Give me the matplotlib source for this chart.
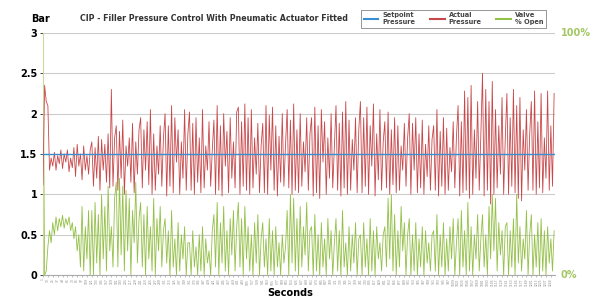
import matplotlib
matplotlib.use("Agg")
import matplotlib.pyplot as plt
import numpy as np

# readings every 4 s, 1 .. 1257
seconds = list(range(1, 1261, 4))

setpoint = 1.5

actual = [
    1.12, 2.35, 2.15, 2.10, 1.30, 1.45, 1.35, 1.52, 1.30, 1.48, 1.38, 1.55, 1.32, 1.50, 1.40,
    1.55, 1.28, 1.45, 1.33, 1.58, 1.22, 1.62, 1.35, 1.50, 1.18, 1.60, 1.30, 1.48, 1.25, 1.55,
    1.65, 1.10, 1.58, 1.20, 1.72, 1.05, 1.68, 1.30, 1.62, 1.15, 1.75, 1.08, 2.30, 1.10, 1.70,
    1.85, 1.05, 1.78, 1.20, 1.92, 1.00, 1.60, 1.35, 1.70, 1.15, 1.88, 1.02, 1.65, 1.25, 1.80,
    1.95, 1.08, 1.80, 1.30, 1.90, 1.12, 2.05, 1.00, 1.75, 1.05, 1.60, 1.25, 1.85, 1.10, 1.70,
    2.00, 0.98, 1.85, 1.10, 2.10, 1.02, 1.95, 1.40, 1.80, 1.00, 1.65, 1.20, 2.05, 1.05, 1.75,
    2.02, 1.05, 1.88, 1.00, 1.95, 1.15, 1.70, 1.02, 2.05, 1.08, 1.60, 1.30, 1.90, 1.10, 1.55,
    1.92, 1.00, 2.10, 1.05, 1.85, 0.98, 2.00, 1.35, 1.78, 1.02, 1.95, 1.20, 1.65, 1.08, 2.02,
    2.08, 1.00, 1.90, 1.10, 2.12, 1.05, 1.95, 1.00, 2.05, 1.08, 1.70, 1.25, 1.88, 1.02, 1.60,
    1.88, 1.02, 2.10, 1.00, 1.98, 1.30, 2.08, 1.05, 1.85, 0.98, 1.72, 1.15, 2.00, 1.10, 1.62,
    2.05, 1.08, 1.92, 1.00, 2.12, 1.05, 1.80, 1.02, 2.00, 1.10, 1.65, 1.28, 1.95, 1.05, 1.75,
    1.95, 0.98, 2.08, 1.02, 1.85, 0.95, 2.05, 1.40, 1.90, 1.00, 1.70, 1.20, 2.00, 1.08, 1.60,
    2.10, 1.05, 1.88, 0.98, 2.02, 1.08, 2.15, 1.00, 1.92, 1.05, 1.68, 1.30, 1.95, 1.02, 1.80,
    2.15, 1.02, 1.95, 1.10, 2.08, 1.00, 1.85, 1.35, 2.12, 0.98, 1.75, 1.18, 2.05, 1.05, 1.65,
    1.90, 1.08, 2.02, 1.00, 1.80, 1.12, 1.95, 1.02, 1.85, 1.05, 1.60, 1.30, 1.88, 1.10, 1.70,
    2.00, 1.00, 1.88, 1.30, 1.95, 1.02, 1.75, 1.08, 1.92, 1.00, 1.62, 1.22, 1.85, 1.05, 1.68,
    1.85, 1.05, 2.05, 0.98, 1.78, 1.10, 1.95, 1.00, 1.82, 1.05, 1.58, 1.28, 1.90, 1.08, 1.72,
    2.10, 0.98, 1.90, 1.02, 2.28, 1.05, 2.20, 0.95, 2.35, 1.00, 1.80, 1.20, 2.15, 1.05, 1.75,
    2.50, 0.98, 2.30, 1.05, 2.15, 0.88, 2.40, 1.00, 2.05, 1.08, 1.85, 1.25, 2.20, 1.00, 1.70,
    2.25, 1.00, 1.95, 1.10, 2.30, 1.02, 2.10, 0.95, 2.20, 0.92, 1.80, 1.30, 2.05, 1.05, 1.75,
    2.15, 1.05, 2.28, 1.00, 1.90, 1.08, 2.25, 1.02, 1.70, 1.20, 2.28, 1.05, 1.85, 1.10, 2.25,
]

# valve opening on the same 0-3 scale (3 = 100 %)
valve = [
    3.00, 0.00, 0.05, 0.35, 0.55, 0.40, 0.65, 0.50, 0.72, 0.55, 0.70, 0.60, 0.74, 0.58, 0.70,
    0.62, 0.72, 0.55, 0.65, 0.45, 0.60, 0.30, 0.50, 0.10, 0.85, 0.05, 0.60, 0.20, 0.80, 0.00,
    0.80, 0.00, 0.90, 0.15, 0.75, 0.00, 1.00, 0.20, 0.85, 0.05, 1.10, 0.30, 0.60, 0.10, 0.95,
    1.15, 0.10, 1.20, 0.25, 1.10, 0.05, 1.05, 0.30, 0.95, 0.00, 0.80, 0.40, 1.15, 0.15, 0.70,
    0.90, 0.10, 0.75, 0.00, 0.85, 0.20, 0.60, 0.05, 0.95, 0.00, 0.70, 0.30, 0.85, 0.10, 0.55,
    0.70, 0.15, 0.55, 0.00, 0.80, 0.10, 0.45, 0.00, 0.65, 0.05, 0.50, 0.20, 0.60, 0.00, 0.40,
    0.40, 0.00, 0.55, 0.10, 0.35, 0.00, 0.50, 0.05, 0.60, 0.00, 0.45, 0.15, 0.30, 0.00, 0.55,
    0.75, 0.10, 0.90, 0.00, 0.65, 0.15, 0.85, 0.05, 0.55, 0.00, 0.70, 0.25, 0.80, 0.05, 0.60,
    0.90, 0.10, 0.70, 0.00, 0.85, 0.20, 0.60, 0.05, 0.50, 0.00, 0.65, 0.15, 0.75, 0.00, 0.45,
    0.65, 0.10, 0.45, 0.00, 0.70, 0.05, 0.55, 0.00, 0.60, 0.10, 0.40, 0.00, 0.50, 0.15, 0.35,
    0.80, 0.00, 1.00, 0.15, 0.95, 0.05, 0.70, 0.00, 0.85, 0.10, 0.60, 0.25, 0.90, 0.05, 0.55,
    0.60, 0.00, 0.75, 0.05, 0.50, 0.00, 0.65, 0.10, 0.45, 0.00, 0.70, 0.20, 0.55, 0.00, 0.40,
    0.70, 0.05, 0.55, 0.00, 0.80, 0.10, 0.40, 0.00, 0.60, 0.05, 0.50, 0.15, 0.65, 0.00, 0.45,
    0.50, 0.00, 0.65, 0.10, 0.45, 0.00, 0.70, 0.05, 0.55, 0.00, 0.60, 0.20, 0.40, 0.05, 0.50,
    0.60, 0.10, 0.95, 0.20, 1.00, 0.05, 0.75, 0.00, 0.55, 0.10, 0.85, 0.30, 0.65, 0.00, 0.50,
    0.70, 0.00, 0.50, 0.05, 0.65, 0.00, 0.45, 0.10, 0.60, 0.00, 0.55, 0.15, 0.40, 0.05, 0.50,
    0.55, 0.05, 0.75, 0.00, 0.50, 0.10, 0.65, 0.00, 0.45, 0.05, 0.60, 0.20, 0.70, 0.00, 0.40,
    0.70, 0.00, 0.80, 0.10, 0.55, 0.00, 0.90, 0.05, 0.60, 0.00, 0.50, 0.20, 0.75, 0.05, 0.45,
    0.75, 0.10, 0.50, 0.00, 0.85, 0.20, 1.00, 0.30, 0.95, 0.05, 0.65, 0.25, 0.55, 0.00, 0.60,
    0.65, 0.00, 0.55, 0.10, 0.70, 0.00, 1.00, 0.15, 0.60, 0.05, 0.45, 0.20, 0.80, 0.00, 0.50,
    0.75, 0.00, 0.50, 0.10, 0.65, 0.00, 0.70, 0.05, 0.55, 0.00, 0.60, 0.15, 0.45, 0.05, 0.55,
]

xticks = list(range(1, 1261, 12))

fig = plt.figure(figsize=(5.93, 2.99), dpi=100)
ax = fig.add_axes([0.0725, 0.080, 0.864, 0.810])

ax.plot(seconds, valve, color="#93c047", lw=0.6, label="Valve\n% Open", zorder=2)
ax.plot(seconds, actual, color="#c8474a", lw=0.6, label="Actual\nPressure", zorder=3)
ax.axhline(setpoint, color="#3a8fd0", lw=1.0, label="Setpoint\nPressure", zorder=4)

ax.set_xlim(1, 1260)
ax.set_ylim(0, 3)
ax.set_yticks([0, 0.5, 1, 1.5, 2, 2.5, 3])
ax.set_yticklabels(["0", "0.5", "1", "1.5", "2", "2.5", "3"], fontsize=7, fontweight="bold")
ax.yaxis.grid(True, color="#cccccc", lw=0.8)
ax.set_axisbelow(True)
ax.set_xticks(xticks)
ax.set_xticklabels([str(t) for t in xticks], rotation=90, fontsize=2.2, color="#666666")
ax.tick_params(axis="x", length=1.5, width=0.4, pad=1, colors="#888888")
ax.tick_params(axis="y", length=2, width=0.5, pad=2)
for s in ["top", "right"]:
    ax.spines[s].set_visible(False)
ax.spines["left"].set_color("#c9d89b")
ax.spines["bottom"].set_color("#aaaaaa")

ax.text(1.01, 1.0, "100%", transform=ax.transAxes, color="#a4c765",
        fontsize=7, fontweight="bold", va="center")
ax.text(1.01, 0.0, "0%", transform=ax.transAxes, color="#a4c765",
        fontsize=7, fontweight="bold", va="center")

fig.text(0.068, 0.925, "Bar", fontsize=7, fontweight="bold", ha="center")
fig.text(0.360, 0.93, "CIP - Filler Pressure Control With Pneumatic Actuator Fitted",
         fontsize=5.7, fontweight="bold", ha="center", color="#333333")
fig.text(0.49, 0.01, "Seconds", fontsize=7, fontweight="bold", ha="center")

h, l = ax.get_legend_handles_labels()
leg = fig.legend(h[::-1], l[::-1], ncol=3, loc="center", bbox_to_anchor=(0.765, 0.937),
                 fontsize=4.8, frameon=True, fancybox=False, edgecolor="#666666",
                 handlelength=2.2, columnspacing=2.2, borderpad=0.35, handletextpad=0.6)
leg.get_frame().set_linewidth(0.6)
for t in leg.get_texts():
    t.set_fontweight("bold")
    t.set_color("#444444")
for line in leg.get_lines():
    line.set_linewidth(1.5)

fig.savefig("out.png", dpi=100)
